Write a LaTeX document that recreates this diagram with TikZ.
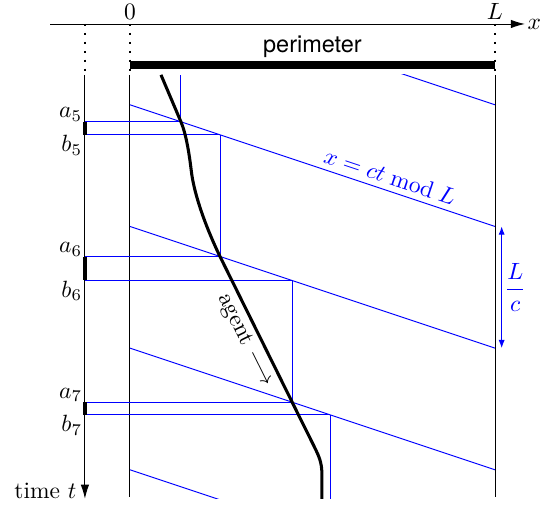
\documentclass[tikz,border=0pt]{standalone}
\usepackage{fontspec}
\setsansfont{TeX Gyre Heros}
\usetikzlibrary{arrows.meta}

\begin{document}
\begin{tikzpicture}[x=1.82cm, y=-1.82cm,
		wall/.style={line width=0.4pt},
		guide/.style={line width=0.5pt, dash pattern=on 0.8pt off 3pt},
		ray/.style={blue, line width=0.4pt},
		agentpath/.style={line width=1.3pt},
		slot/.style={line width=2pt},
		alab/.style={anchor=south east, inner xsep=1pt, inner ysep=0pt},
		blab/.style={anchor=north east, inner xsep=1pt, inner ysep=0pt},
		bigtip/.tip={Latex[length=6pt, width=3.6pt]},
		smalltip/.tip={Latex[length=3.5pt, width=2.6pt]}]
		
		\useasboundingbox (-1.068,-0.861) rectangle (3.370,3.330);
		
		% Achsen
		\coordinate (o) at (0,-0.664);
		\coordinate (l) at (3,-0.664);
		\coordinate (taxis) at (-0.37,-0.664);
		\draw[wall, -bigtip] (-0.657,-0.664) -- (3.246,-0.664) node[right, inner sep=1pt] (xlab) {$x$};
		\node[above, inner sep=1.7pt] (zero) at (o) {$0$};
		\node[above, inner sep=1.7pt] (ell) at (l) {$L$};
		\draw[guide] (taxis) -- (-0.37,-0.246);
		\draw[guide] (o) -- (0,-0.246);
		\draw[guide] (l) -- (3,-0.246);
		
		% Umfang
		\draw[line width=3.5pt] (0,-0.328) -- (3,-0.328);
		\node[anchor=south, inner sep=0pt, yshift=3pt] (perim) at (1.5,-0.328) {\sffamily perimeter};
		
		% Waende und Zeitachse
		\draw[wall] (0,-0.246) -- (0,3.221);
		\draw[wall] (3,-0.246) -- (3,3.221);
		\draw[wall, -bigtip] (-0.37,-0.246) -- (-0.37,3.238)
		node[anchor=base east, inner sep=3.4pt] (tlab) {time $t$};
		
		% Schnittpunkte (a_n auf dem Agenten, b_n darueber)
		\coordinate (a5) at (0.419,0.140);
		\coordinate (b5) at (0.740,0.247);
		\coordinate (a6) at (0.740,1.247);
		\coordinate (b6) at (1.333,1.444);
		\coordinate (a7) at (1.333,2.444);
		\coordinate (b7) at (1.644,2.548);
		
		% --- Strahlen x = ct mod L ---
		\begin{scope}
			\clip (0,-0.246) rectangle (3,3.238);
			\foreach \n in {-1,...,3}
			\draw[ray] (0,\n) -- (3,\n+1);
			\draw[ray] (a5) -- (0.419,-0.246);
			\draw[ray] (b5) -- (a6);
			\draw[ray] (b6) -- (a7);
			\draw[ray] (b7) -- (1.644,3.238);
		\end{scope}
		\path (0,0) -- node[pos=0.70, sloped, above, inner sep=2.5pt, text=blue] (modlab) {$x = ct \bmod L$} (3,1);
		
		% Horizontale zur Zeitachse
		\foreach \p in {a5,b5,a6,b6,a7,b7}
		\draw[ray] (taxis |- \p) -- (\p);
		\draw[slot] (taxis |- a5) -- (taxis |- b5);
		\draw[slot] (taxis |- a6) -- (taxis |- b6);
		\draw[slot] (taxis |- a7) -- (taxis |- b7);
		\node[alab] at (taxis |- a5) {$a_5$};
		\node[blab] at (taxis |- b5) {$b_5$};
		\node[alab] at (taxis |- a6) {$a_6$};
		\node[blab] at (taxis |- b6) {$b_6$};
		\node[alab] at (taxis |- a7) {$a_7$};
		\node[blab] at (taxis |- b7) {$b_7$};
		
		% Periode L/c
		\draw[ray, smalltip-smalltip] (3.055,1) -- node[right, inner sep=1pt, text=blue] (period) {$\displaystyle\frac{L}{c}$} (3.055,2);
		
		% --- Agent ---
		\draw[agentpath] (0.255,-0.246) -- (a5)
		.. controls (0.4615,0.240) and (0.487,0.40) .. (0.505,0.55)
		.. controls (0.523,0.70) and (0.596,0.947) .. (a6)
		-- node[pos=0.53, sloped, below, inner sep=1.5pt] (agentlab) {agent $\longrightarrow$} (a7)
		-- (1.495,2.77) .. controls (1.554,2.89) and (1.578,2.93) .. (1.578,3.05) -- (1.578,3.238);
		
	\end{tikzpicture}
\end{document}
